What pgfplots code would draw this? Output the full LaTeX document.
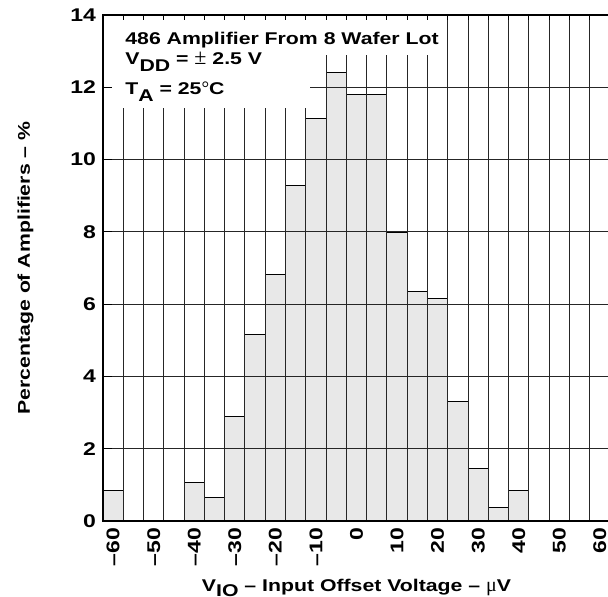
\documentclass[border=0pt]{standalone}
\usepackage{pgfplots}
\pgfplotsset{compat=1.18}
\usepackage{fontspec}
\setmainfont{Liberation Sans}[FakeStretch=1.25]
\newfontfamily\serifsym{Liberation Serif}
\newcommand{\lblfont}{\fontsize{8.5}{10}\selectfont\bfseries}
\newcommand{\tickfont}{\fontsize{9.2}{11}\selectfont\bfseries}
\begin{document}
\begin{tikzpicture}
\begin{axis}[
  width=253.5pt, height=253pt, scale only axis,
  xmin=-62.5, xmax=62.5, ymin=0, ymax=14,
  axis on top,
  axis line style={line width=1pt},
  xtick={-60,-50,...,60},
  xticklabels={–60,–50,–40,–30,–20,–10,0,10,20,30,40,50,60},
  minor xtick={-57.5,-52.5,...,57.5},
  ytick={0,2,...,14},
  yticklabels={0,2,4,6,8,10,12,14},
  xminorgrids=true, ymajorgrids=true, xmajorgrids=false,
  major grid style={black!85, line width=0.5pt},
  minor grid style={black!85, line width=0.5pt},
  major tick length=0pt, minor tick length=0pt,
  xticklabel style={rotate=90, anchor=east, font=\tickfont},
  yticklabel style={font=\tickfont},
  xlabel={V\raisebox{-2.6pt}{IO} – Input Offset Voltage – {\serifsym\mdseries\fontsize{10}{10}\selectfont μ}V},
  ylabel={Percentage of Amplifiers – \%},
  every axis x label/.style={at={(rel axis cs:0.5,0)}, anchor=base, yshift=-35pt, font=\lblfont},
  every axis y label/.style={at={(rel axis cs:0,0.5)}, xshift=-36.5pt, rotate=90, anchor=base, font=\lblfont},
]
\addplot[ybar, bar width=5, fill=black!9, draw=black, line width=0.5pt] coordinates {
  (-60,0.83) (-40,1.07) (-35,0.66) (-30,2.89) (-25,5.17) (-20,6.81)
  (-15,9.27) (-10,11.14) (-5,12.41) (0,11.79) (5,11.79) (10,7.99)
  (15,6.36) (20,6.16) (25,3.32) (30,1.45) (35,0.38) (40,0.83)
};
\coordinate (SW) at (rel axis cs:0,0);
\coordinate (TL) at (rel axis cs:0,1);
\coordinate (B1a) at (axis cs:-62.5,12.89);
\coordinate (B1b) at (axis cs:21.1,14);
\coordinate (B2a) at (axis cs:-62.5,11.43);
\coordinate (B2b) at (axis cs:-11.5,12.89);
\end{axis}
\fill[white] (B1a) rectangle (B1b);
\fill[white] (B2a) rectangle (B2b);
\node[anchor=base west, inner sep=0pt, font=\lblfont] at ([shift={(11pt,-15pt)}]TL) {486 Amplifier From 8 Wafer Lot};
\node[anchor=base west, inner sep=0pt, font=\lblfont] at ([shift={(11pt,-25pt)}]TL) {V\raisebox{-3.5pt}{DD} = {\serifsym\mdseries\fontsize{11}{11}\selectfont ±} 2.5 V};
\node[anchor=base west, inner sep=0pt, font=\lblfont] at ([shift={(11pt,-40pt)}]TL) {T\raisebox{-3.2pt}{A} = 25{\serifsym\mdseries\fontsize{9.5}{10}\selectfont °}C};
\begin{axis}[
  width=253.5pt, height=253pt, scale only axis,
  xmin=-62.5, xmax=62.5, ymin=0, ymax=14,
  axis line style={line width=1pt},
  xtick={-57.5,-52.5,...,57.5}, xticklabels={},
  ytick={0,2,...,14}, yticklabels={},
  xtick pos=right, ytick pos=left,
  tick align=inside,
  major tick length=4.5pt,
  xtick style={/pgfplots/major tick length=2.5pt, line width=0.5pt, black},
  ytick style={line width=0.5pt, black},
]
\end{axis}
\pgfresetboundingbox
\path[use as bounding box] ([shift={(-51.5pt,-38pt)}]SW) rectangle ([shift={(252.5pt,260.5pt)}]SW);
\end{tikzpicture}
\end{document}
